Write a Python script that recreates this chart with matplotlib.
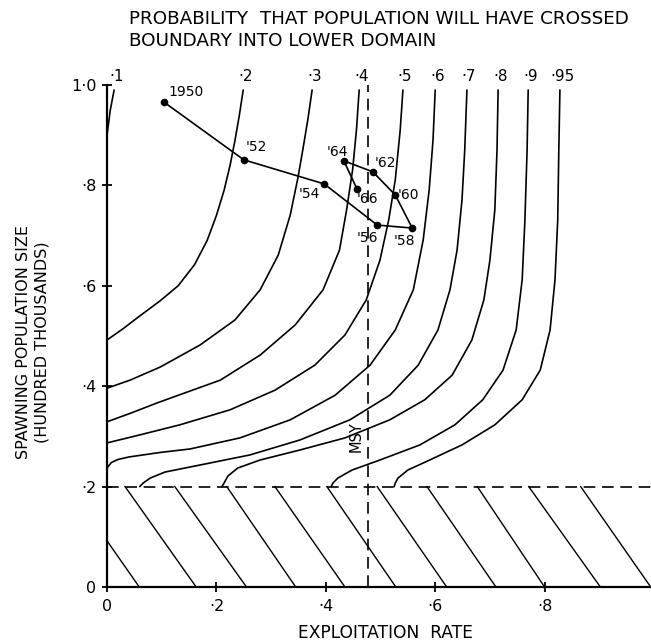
import matplotlib
matplotlib.use("Agg")
import matplotlib.pyplot as plt

# ---- data -------------------------------------------------------------
# Probability contours (exploitation rate, spawning population size)
contour_labels = ["·1", "·2", "·3", "·4", "·5", "·6", "·7", "·8", "·9", "·95"]

c01_x = [0.013, 0.006, 0.0]
c01_y = [0.99, 0.95, 0.90]

c02_x = [0.249, 0.242, 0.234, 0.225, 0.214, 0.200, 0.183, 0.160, 0.130, 0.097, 0.060, 0.030, 0.0]
c02_y = [0.99, 0.94, 0.89, 0.84, 0.79, 0.74, 0.69, 0.642, 0.600, 0.570, 0.540, 0.515, 0.492]

c03_x = [0.375, 0.367, 0.358, 0.349, 0.335, 0.313, 0.280, 0.234, 0.170, 0.097, 0.042, 0.0]
c03_y = [0.99, 0.930, 0.871, 0.815, 0.741, 0.661, 0.592, 0.532, 0.482, 0.438, 0.412, 0.396]

c04_x = [0.461, 0.456, 0.449, 0.438, 0.425, 0.395, 0.344, 0.280, 0.207, 0.133, 0.090, 0.045, 0.0]
c04_y = [0.99, 0.910, 0.831, 0.751, 0.671, 0.592, 0.522, 0.462, 0.412, 0.383, 0.366, 0.347, 0.329]

c05_x = [0.541, 0.536, 0.527, 0.515, 0.499, 0.474, 0.435, 0.380, 0.307, 0.225, 0.133, 0.060, 0.0]
c05_y = [0.99, 0.910, 0.811, 0.731, 0.651, 0.572, 0.502, 0.442, 0.392, 0.353, 0.323, 0.303, 0.287]

c06_x = [0.600, 0.596, 0.589, 0.578, 0.560, 0.527, 0.481, 0.417, 0.335, 0.243, 0.152,
         0.097, 0.040, 0.020, 0.008, 0.002, 0.0]
c06_y = [0.99, 0.890, 0.791, 0.691, 0.592, 0.512, 0.442, 0.382, 0.333, 0.297, 0.275,
         0.268, 0.259, 0.254, 0.248, 0.240, 0.235]

c07_x = [0.658, 0.654, 0.649, 0.640, 0.627, 0.605, 0.569, 0.517, 0.444, 0.353, 0.261,
         0.170, 0.106, 0.079, 0.066, 0.060]
c07_y = [0.99, 0.871, 0.771, 0.671, 0.592, 0.512, 0.442, 0.382, 0.333, 0.293, 0.263,
         0.243, 0.229, 0.217, 0.207, 0.200]

c08_x = [0.715, 0.713, 0.709, 0.700, 0.689, 0.667, 0.631, 0.581, 0.517, 0.435, 0.353,
         0.280, 0.239, 0.221, 0.214, 0.210]
c08_y = [0.99, 0.871, 0.751, 0.651, 0.572, 0.492, 0.422, 0.373, 0.333, 0.297, 0.273,
         0.253, 0.237, 0.221, 0.207, 0.200]

c09_x = [0.770, 0.768, 0.764, 0.759, 0.748, 0.724, 0.687, 0.636, 0.572, 0.499, 0.448,
         0.422, 0.413, 0.410]
c09_y = [0.99, 0.871, 0.731, 0.612, 0.512, 0.432, 0.373, 0.323, 0.283, 0.253, 0.233,
         0.217, 0.207, 0.200]

c095_x = [0.828, 0.826, 0.824, 0.819, 0.810, 0.792, 0.759, 0.709, 0.649, 0.590, 0.550,
          0.532, 0.527, 0.525]
c095_y = [0.99, 0.871, 0.731, 0.612, 0.512, 0.432, 0.373, 0.323, 0.283, 0.253, 0.233,
          0.217, 0.207, 0.200]

contours_x = [c01_x, c02_x, c03_x, c04_x, c05_x, c06_x, c07_x, c08_x, c09_x, c095_x]
contours_y = [c01_y, c02_y, c03_y, c04_y, c05_y, c06_y, c07_y, c08_y, c09_y, c095_y]

# Observed stock trajectory
years = ["1950", "'52", "'54", "'56", "'58", "'60", "'62", "'64", "'66"]
traj_rate = [0.104, 0.250, 0.397, 0.494, 0.558, 0.527, 0.486, 0.433, 0.457]
traj_size = [0.966, 0.851, 0.803, 0.721, 0.715, 0.781, 0.827, 0.849, 0.793]

# Lower-domain boundary and MSY exploitation rate
boundary_size = 0.2
msy_rate = 0.477

# Hatching of the lower domain: top (at boundary) and bottom (at 0) x positions
hatch_top_x = [0.0, 0.033, 0.124, 0.219, 0.307, 0.402, 0.494, 0.585, 0.677, 0.771, 0.866]
hatch_top_y = [0.092, 0.2, 0.2, 0.2, 0.2, 0.2, 0.2, 0.2, 0.2, 0.2, 0.2]
hatch_bot_x = [0.059, 0.163, 0.255, 0.345, 0.435, 0.528, 0.621, 0.711, 0.800, 0.902, 0.994]

x_ticks = [0, 0.2, 0.4, 0.6, 0.8]
x_ticklabels = ["0", "·2", "·4", "·6", "·8"]
y_ticks = [0, 0.2, 0.4, 0.6, 0.8, 1.0]
y_ticklabels = ["0", "·2", "·4", "·6", "·8", "1·0"]

# ---- figure -------------------------------------------------------------
plt.rcParams["font.family"] = ["DejaVu Sans"]
W, H = 651, 643
fig = plt.figure(figsize=(W / 100, H / 100), dpi=100)
left_px, right_px, bottom_px, top_px = 107, 651, 587, 85
ax = fig.add_axes([left_px / W, 1 - bottom_px / H,
                   (right_px - left_px) / W, (bottom_px - top_px) / H])
ax.set_xlim(0, (right_px - left_px) / 547)
ax.set_ylim(0, 1.0)

for sp in ("top", "right"):
    ax.spines[sp].set_visible(False)
for sp in ("left", "bottom"):
    ax.spines[sp].set_linewidth(1.6)

lw = 1.2
for cx, cy in zip(contours_x, contours_y):
    ax.plot(cx, cy, color="black", lw=lw, solid_capstyle="round", solid_joinstyle="round")

# contour labels above the plotting area
for lab, cx in zip(contour_labels, contours_x):
    ax.text(cx[0] + 0.004, 1.002, lab, ha="center", va="bottom", fontsize=11)

# hatched lower domain
for tx, ty, bx in zip(hatch_top_x, hatch_top_y, hatch_bot_x):
    ax.plot([tx, bx], [ty, 0], color="black", lw=1.0)

# boundary and MSY lines
ax.axhline(boundary_size, color="black", lw=1.2, dashes=(7, 4))
ax.plot([msy_rate, msy_rate], [0, 1.0], color="black", lw=1.2, dashes=(7, 4))
ax.text(msy_rate - 0.008, 0.30, "MSY", rotation=90, ha="right", va="center", fontsize=10.5)

# trajectory
ax.plot(traj_rate, traj_size, color="black", lw=1.2, marker="o", ms=4.5, zorder=5)
offsets = {
    "1950": ((3, 2), "left", "bottom"),
    "'52": ((1, 4), "left", "bottom"),
    "'54": ((-3, -2), "right", "top"),
    "'56": ((1, -4), "right", "top"),
    "'58": ((2, -4), "right", "top"),
    "'60": ((2, 0), "left", "center"),
    "'62": ((1, 1), "left", "bottom"),
    "'64": ((3, 1), "right", "bottom"),
    "'66": ((0, -2), "left", "top"),
}
for yr, xr, ys in zip(years, traj_rate, traj_size):
    off, ha, va = offsets[yr]
    ax.annotate(yr, (xr, ys), xytext=off, textcoords="offset points",
                ha=ha, va=va, fontsize=10)

ax.set_xticks(x_ticks)
ax.set_xticklabels(x_ticklabels)
ax.set_yticks(y_ticks)
ax.set_yticklabels(y_ticklabels)
ax.tick_params(direction="inout", length=7, width=1.3, labelsize=11.5)
ax.tick_params(axis="x", pad=5)
ax.tick_params(axis="y", pad=4)

fig.text(129 / W, 1 - 19 / H, "PROBABILITY  THAT POPULATION WILL HAVE CROSSED",
         ha="left", va="center", fontsize=13.2)
fig.text(129 / W, 1 - 41 / H, "BOUNDARY INTO LOWER DOMAIN",
         ha="left", va="center", fontsize=13.2)
fig.text(385 / W, 1 - 633 / H, "EXPLOITATION  RATE", ha="center", va="center", fontsize=12.3)
fig.text(33 / W, 1 - 342 / H, "SPAWNING POPULATION SIZE\n(HUNDRED THOUSANDS)",
         rotation=90, ha="center", va="center", fontsize=11.5, linespacing=1.3)

fig.savefig("out.png", dpi=100)
